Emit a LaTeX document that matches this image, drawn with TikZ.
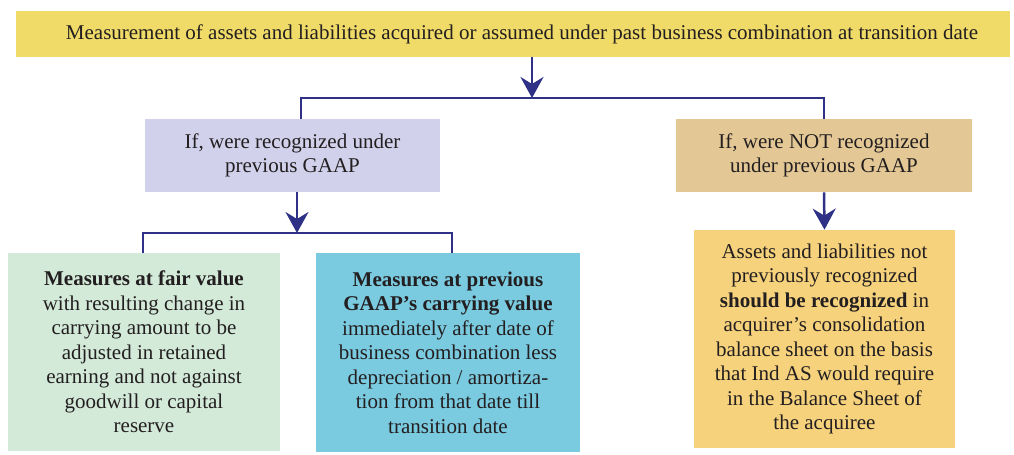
\documentclass[tikz,border=0pt]{standalone}
\usepackage{fontspec}
\setmainfont{Liberation Serif}
\usepackage{xcolor}
\usetikzlibrary{positioning,arrows.meta}
\definecolor{topyellow}{HTML}{F0DB68}
\definecolor{lavender}{HTML}{D1D1EB}
\definecolor{tan}{HTML}{E3C896}
\definecolor{mint}{HTML}{D3EAD9}
\definecolor{sky}{HTML}{7ACAE0}
\definecolor{apricot}{HTML}{F6D27C}
\definecolor{navy}{HTML}{2E3185}
\definecolor{ink}{HTML}{231F20}
\tikzset{
box/.style={
inner sep=0pt,
align=center,
text=ink,
font=\fontsize{10.5}{12.25}\selectfont
},
link/.style={
draw=navy,
line width=1.25pt
},
arrow/.style={
link,
-{Stealth[length=10.5pt,width=11.5pt,inset=3.5pt]}
}
}
\begin{document}
\begin{tikzpicture}[x=0.5pt,y=-0.5pt]
\useasboundingbox (0,0) rectangle (1014,455);
\node[box,fill=topyellow,minimum width=497pt,minimum height=23pt](top) at (513,34){\hspace*{9pt}Measurement of assets and liabilities acquired or assumed under past business combination at transition date};
\node[box,fill=lavender,minimum width=147.5pt,minimum height=36.5pt](prev) at (292.5,155.5){If, were recognized under\\previous GAAP};
\node[box,fill=tan,minimum width=148pt,minimum height=36.5pt](notprev) at (824,155.5){If, were NOT recognized\\under previous GAAP};
\node[box,fill=mint,minimum width=136pt,minimum height=99pt](fair) at (144,352){\textbf{Measures at fair value}\\with resulting change in\\carrying amount to be\\adjusted in retained\\earning and not against\\goodwill or capital\\reserve};
\node[box,fill=sky,minimum width=132pt,minimum height=99.5pt](carry) at (448,352.5){\textbf{Measures at previous}\\\textbf{GAAP’s carrying value}\\immediately after date of\\business combination less\\depreciation / amortiza-\\tion from that date till\\transition date};
\node[box,fill=apricot,minimum width=130.5pt,minimum height=109pt](recog) at (824.5,339){Assets and liabilities not\\previously recognized\\\textbf{should be recognized} in\\acquirer’s consolidation\\balance sheet on the basis\\that Ind AS would require\\in the Balance Sheet of\\the acquiree};

\coordinate(split) at (532,98);
\coordinate(lt) at (301,98);
\coordinate(rt) at (824,98);
\coordinate(subsplit) at (297,233);
\coordinate(bl) at (143,233);
\coordinate(br) at (452,233);

\draw[arrow](top.south -| split)--(split);
\draw[link](prev.north -| lt)|-(rt)--(notprev.north);
\draw[arrow](prev.south -| subsplit)--(subsplit);
\draw[link](fair.north -| bl)|-(br)--(carry.north -| br);
\draw[arrow](notprev.south)--(recog.north);
\end{tikzpicture}
\end{document}
